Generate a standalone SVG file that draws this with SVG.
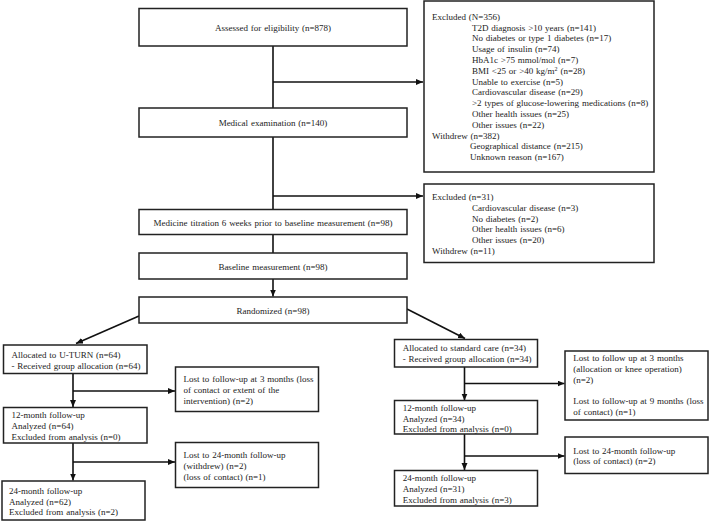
<svg xmlns="http://www.w3.org/2000/svg" width="709" height="521" viewBox="0 0 709 521">
<defs>
<style>
.box{fill:#fff;stroke:#222;stroke-width:1.5}
.c{stroke:#111;stroke-width:1.6;fill:none}
text{font-family:"Liberation Serif","Times New Roman",serif;font-size:9px;fill:#222;word-spacing:0.6px}
.m{text-anchor:middle}
</style>
<marker id="ah" markerUnits="userSpaceOnUse" markerWidth="8" markerHeight="7" refX="7" refY="3" orient="auto">
<path d="M0,0 L7,3 L0,6 z" fill="#111"/>
</marker>
</defs>
<rect width="709" height="521" fill="#fff"/>
<g id="connectors">
<line class="c" x1="273" y1="46" x2="273" y2="108"/>
<line class="c" x1="273" y1="82" x2="423" y2="82" marker-end="url(#ah)"/>
<line class="c" x1="273" y1="137" x2="273" y2="209"/>
<line class="c" x1="273" y1="196" x2="423" y2="196" marker-end="url(#ah)"/>
<line class="c" x1="273" y1="234" x2="273" y2="253"/>
<line class="c" x1="273" y1="279" x2="273" y2="296.5" marker-end="url(#ah)"/>
<line class="c" x1="139" y1="316" x2="76" y2="343.5" marker-end="url(#ah)"/>
<line class="c" x1="407" y1="309" x2="465" y2="338.5" marker-end="url(#ah)"/>
<line class="c" x1="73" y1="373" x2="73" y2="407" marker-end="url(#ah)"/>
<line class="c" x1="73" y1="391" x2="175" y2="391" marker-end="url(#ah)"/>
<line class="c" x1="73" y1="443" x2="73" y2="480.5" marker-end="url(#ah)"/>
<line class="c" x1="73" y1="462" x2="175" y2="462" marker-end="url(#ah)"/>
<line class="c" x1="464.5" y1="367" x2="464.5" y2="400.5" marker-end="url(#ah)"/>
<line class="c" x1="464.5" y1="383.5" x2="564.5" y2="383.5" marker-end="url(#ah)"/>
<line class="c" x1="464.5" y1="434" x2="464.5" y2="470" marker-end="url(#ah)"/>
<line class="c" x1="464.5" y1="456" x2="564.5" y2="456" marker-end="url(#ah)"/>
</g>
<g id="assessed">
<rect class="box" x="139" y="8.5" width="268" height="37.5"/>
<text class="m" x="273" y="31">Assessed for eligibility (n=878)</text>
</g>
<g id="excluded1">
<rect class="box" x="424" y="1" width="230" height="171"/>
<text x="432" y="19.8">Excluded (N=356)</text>
<text x="472" y="30.6">T2D diagnosis &gt;10 years (n=141)</text>
<text x="472" y="41.4">No diabetes or type 1 diabetes (n=17)</text>
<text x="472" y="52.2">Usage of insulin (n=74)</text>
<text x="472" y="63">HbA1c &gt;75 mmol/mol (n=7)</text>
<text x="472" y="73.8">BMI &lt;25 or &gt;40 kg/m<tspan font-size="6" dy="-3">2</tspan><tspan dy="3"> (n=28)</tspan></text>
<text x="472" y="84.6">Unable to exercise (n=5)</text>
<text x="472" y="95.4">Cardiovascular disease (n=29)</text>
<text x="472" y="106.2">&gt;2 types of glucose-lowering medications (n=8)</text>
<text x="472" y="117">Other health issues (n=25)</text>
<text x="472" y="127.8">Other issues (n=22)</text>
<text x="432" y="138.6">Withdrew (n=382)</text>
<text x="470" y="149.4">Geographical distance (n=215)</text>
<text x="470" y="160.2">Unknown reason (n=167)</text>
</g>
<g id="medical">
<rect class="box" x="139" y="108" width="268" height="29"/>
<text class="m" x="273" y="125.7">Medical examination (n=140)</text>
</g>
<g id="excluded2">
<rect class="box" x="424" y="184" width="230" height="78.5"/>
<text x="432" y="199.7">Excluded (n=31)</text>
<text x="472" y="210.6">Cardiovascular disease (n=3)</text>
<text x="472" y="221.5">No diabetes (n=2)</text>
<text x="472" y="232.4">Other health issues (n=6)</text>
<text x="472" y="243.3">Other issues (n=20)</text>
<text x="432" y="254.2">Withdrew (n=11)</text>
</g>
<g id="titration">
<rect class="box" x="139" y="209.5" width="268" height="25"/>
<text class="m" x="273" y="225.7">Medicine titration 6 weeks prior to baseline measurement (n=98)</text>
</g>
<g id="baseline">
<rect class="box" x="139" y="253" width="268" height="26"/>
<text class="m" x="273" y="269.7">Baseline measurement (n=98)</text>
</g>
<g id="randomized">
<rect class="box" x="139" y="297" width="268" height="26"/>
<text class="m" x="273" y="313.7">Randomized (n=98)</text>
</g>
<g id="uturn">
<rect class="box" x="3.5" y="345" width="143.5" height="28.5"/>
<text x="11.5" y="358">Allocated to U-TURN (n=64)</text>
<text x="11.5" y="368.5">- Received group allocation (n=64)</text>
</g>
<g id="lost1">
<rect class="box" x="175.5" y="367" width="143" height="44.5"/>
<text x="183.5" y="382.3">Lost to follow-up at 3 months (loss</text>
<text x="183.5" y="393.2">of contact or extent of the</text>
<text x="183.5" y="404">intervention) (n=2)</text>
</g>
<g id="uturn12">
<rect class="box" x="3.5" y="407.5" width="143.5" height="35.5"/>
<text x="11.5" y="418">12-month follow-up</text>
<text x="11.5" y="429">Analyzed (n=64)</text>
<text x="11.5" y="439.5">Excluded from analysis (n=0)</text>
</g>
<g id="lost2">
<rect class="box" x="175.5" y="442.5" width="143" height="45"/>
<text x="183.5" y="458">Lost to 24-month follow-up</text>
<text x="183.5" y="469">(withdrew) (n=2)</text>
<text x="183.5" y="479.7">(loss of contact) (n=1)</text>
</g>
<g id="uturn24">
<rect class="box" x="2" y="481" width="143" height="39"/>
<text x="9" y="493.7">24-month follow-up</text>
<text x="9" y="504.7">Analyzed (n=62)</text>
<text x="9" y="515.3">Excluded from analysis (n=2)</text>
</g>
<g id="standard">
<rect class="box" x="394.5" y="339.5" width="143" height="27.5"/>
<text x="402.7" y="351.3">Allocated to standard care (n=34)</text>
<text x="402.7" y="362.3">- Received group allocation (n=34)</text>
</g>
<g id="lost3">
<rect class="box" x="565" y="351" width="143" height="69"/>
<text x="573.3" y="361.3">Lost to follow up at 3 months</text>
<text x="573.3" y="372">(allocation or knee operation)</text>
<text x="573.3" y="383">(n=2)</text>
<text x="573.3" y="403.7">Lost to follow-up at 9 months (loss</text>
<text x="573.3" y="414.7">of contact) (n=1)</text>
</g>
<g id="standard12">
<rect class="box" x="394.5" y="400.5" width="143" height="33.5"/>
<text x="402.7" y="411.3">12-month follow-up</text>
<text x="402.7" y="421.6">Analyzed (n=34)</text>
<text x="402.7" y="431.8">Excluded from analysis (n=0)</text>
</g>
<g id="lost4">
<rect class="box" x="565" y="437" width="143" height="36.5"/>
<text x="573.3" y="453.7">Lost to 24-month follow-up</text>
<text x="573.3" y="464">(loss of contact) (n=2)</text>
</g>
<g id="standard24">
<rect class="box" x="394.5" y="470.5" width="143" height="35.5"/>
<text x="402.7" y="481.3">24-month follow-up</text>
<text x="402.7" y="492.3">Analyzed (n=31)</text>
<text x="402.7" y="503">Excluded from analysis (n=3)</text>
</g>
</svg>
